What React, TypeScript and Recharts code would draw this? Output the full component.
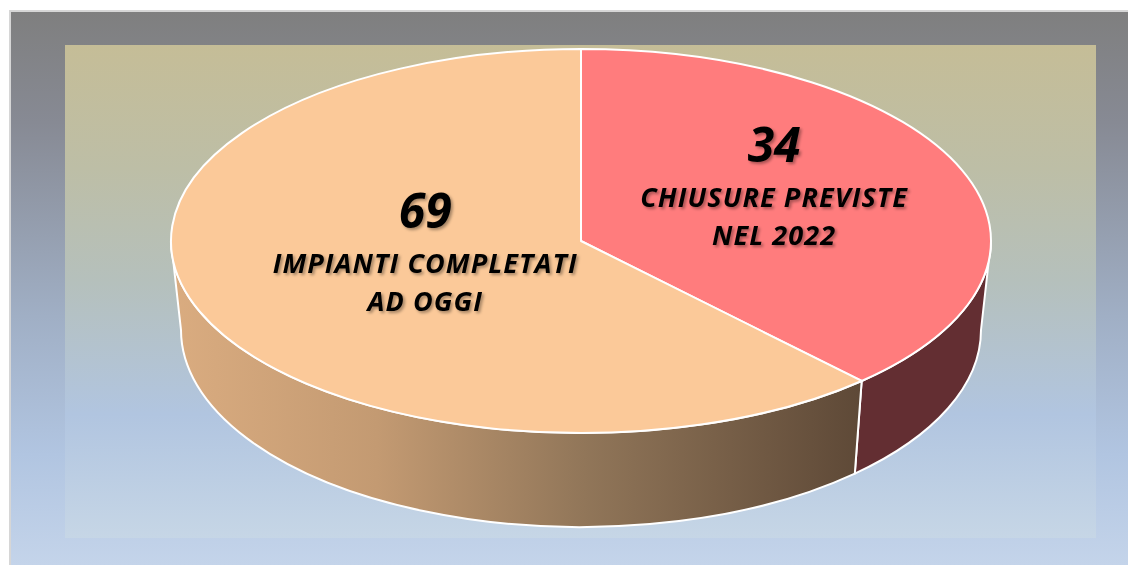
import { PieChart, Pie } from 'recharts';

// values
const SLICE_VALUES = [34, 69];
const SLICE_LINE1 = ['CHIUSURE PREVISTE', 'IMPIANTI COMPLETATI'];
const SLICE_LINE2 = ['NEL 2022', 'AD OGGI'];
const TOP_COLORS = ['#FF7C7D', '#FBC999'];

const data = SLICE_VALUES.map((value, i) => ({
  name: `${SLICE_LINE1[i]} ${SLICE_LINE2[i]}`,
  value,
  line1: SLICE_LINE1[i],
  line2: SLICE_LINE2[i],
}));

// 3d look
const TILT = 192 / 410; // ry / rx of the top face
const DEPTH = 89;
const BOTTOM_RX = 400 / 410;
const BOTTOM_RY = 197 / 192;
const WARP = 21.26; // perspective skew of the angles
const SIDE_FILLS = ['#632E32', 'url(#orangeSide)'];

// label spot, in units of the top face radii
const LABEL_SPOT = [
  { dx: 0.471, dy: -0.411 },
  { dx: -0.38, dy: -0.068 },
];

const rad = (d: number) => (d * Math.PI) / 180;

// recharts angle (ccw from 3 o'clock) -> clockwise from 12 o'clock, skewed
function warp(a: number) {
  const t = 90 - a;
  return t - WARP * Math.sin(rad(2 * t));
}

function pt(cx: number, cy: number, rx: number, ry: number, phi: number) {
  return [cx + rx * Math.sin(rad(phi)), cy - ry * Math.cos(rad(phi))];
}

const f = (p: number[]) => `${p[0].toFixed(2)},${p[1].toFixed(2)}`;

function Slice3D(props: any) {
  const { cx, cy, outerRadius, startAngle, endAngle, index } = props;
  const rx = outerRadius;
  const ry = outerRadius * TILT;
  const brx = rx * BOTTOM_RX;
  const bry = ry * BOTTOM_RY;
  const bcy = cy + DEPTH;
  const p1 = warp(startAngle);
  const p2 = warp(endAngle);

  const large = p2 - p1 > 180 ? 1 : 0;
  const top = `M${cx},${cy} L${f(pt(cx, cy, rx, ry, p1))} A${rx},${ry} 0 ${large} 1 ${f(pt(cx, cy, rx, ry, p2))} Z`;

  // front wall, only the part facing us
  const a = Math.max(p1, 90);
  const b = Math.min(p2, 270);
  let side = '';
  if (a < b) {
    const l = b - a > 180 ? 1 : 0;
    side =
      `M${f(pt(cx, cy, rx, ry, a))} A${rx},${ry} 0 ${l} 1 ${f(pt(cx, cy, rx, ry, b))} ` +
      `L${f(pt(cx, bcy, brx, bry, b))} A${brx},${bry} 0 ${l} 0 ${f(pt(cx, bcy, brx, bry, a))} Z`;
  }

  return (
    <g>
      {index === 0 && (
        <defs>
          <linearGradient id="orangeSide" gradientUnits="userSpaceOnUse" x1={cx - rx} y1={0} x2={cx + rx * 0.68} y2={0}>
            <stop offset="0%" stopColor="#DAAC80" />
            <stop offset="30%" stopColor="#C39A72" />
            <stop offset="60%" stopColor="#917659" />
            <stop offset="100%" stopColor="#5E4937" />
          </linearGradient>
          <filter id="txtShadow" x="-20%" y="-40%" width="140%" height="180%">
            <feDropShadow dx="2" dy="2" stdDeviation="1.4" floodColor="#000" floodOpacity="0.35" />
          </filter>
        </defs>
      )}
      {side && <path d={side} fill={SIDE_FILLS[index]} stroke="#fff" strokeWidth={2} strokeLinejoin="round" />}
      <path d={top} fill={TOP_COLORS[index]} stroke="#fff" strokeWidth={2} strokeLinejoin="round" />
    </g>
  );
}

function SliceLabel(props: any) {
  const { cx, cy, outerRadius, index, payload, value } = props;
  const spot = LABEL_SPOT[index];
  const x = cx + spot.dx * outerRadius;
  const y = cy + spot.dy * outerRadius * TILT;
  const common = {
    textAnchor: 'middle' as const,
    fill: '#000',
    fontFamily: '"Open Sans", Lato, sans-serif',
    fontWeight: 700,
    fontStyle: 'italic',
    filter: 'url(#txtShadow)',
  };
  return (
    <g>
      <text x={x} y={y} fontSize={48} {...common}>{value}</text>
      <text x={x} y={y + 45} fontSize={27} letterSpacing={1.1} {...common}>{payload.line1}</text>
      <text x={x} y={y + 83} fontSize={27} letterSpacing={1.1} {...common}>{payload.line2}</text>
    </g>
  );
}

export default function App() {
  return (
    <div style={{ position: 'absolute', left: 0, top: 0, width: 1128, height: 565, background: '#fff', overflow: 'hidden' }}>
      <div
        style={{
          position: 'absolute',
          left: 9,
          top: 10,
          width: 1119,
          height: 555,
          boxSizing: 'border-box',
          borderTop: '2px solid #D6D6D6',
          borderLeft: '2px solid #D6D6D6',
          background: 'linear-gradient(to bottom, #7F7F7F 0%, #878A94 20%, #A0AFC5 55%, #B1C5E1 80%, #C4D4EA 100%)',
        }}
      />
      <div
        style={{
          position: 'absolute',
          left: 65,
          top: 45,
          width: 1031,
          height: 493,
          background: 'linear-gradient(to bottom, #C5BD97 0%, #BDBEA6 25%, #B5C0BC 48%, #B1C5E0 75%, #C6D6E6 100%)',
        }}
      />
      <div style={{ position: 'absolute', left: 0, top: 0 }}>
        <PieChart width={1128} height={565} margin={{ top: 0, right: 0, bottom: 0, left: 0 }}>
          <Pie
            data={data}
            dataKey="value"
            nameKey="name"
            cx={581}
            cy={241}
            outerRadius={410}
            startAngle={90}
            endAngle={-270}
            stroke="none"
            shape={Slice3D}
            label={SliceLabel}
            labelLine={false}
            isAnimationActive={false}
          />
        </PieChart>
      </div>
    </div>
  );
}
